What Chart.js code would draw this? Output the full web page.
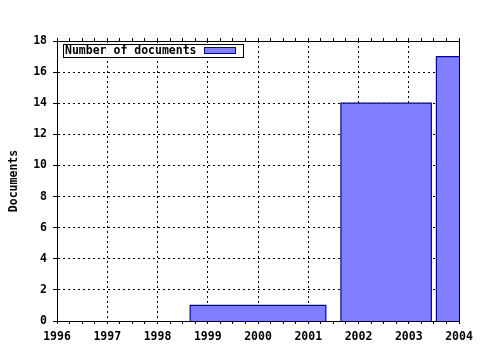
<!DOCTYPE html>
<html>
<head>
<meta charset="utf-8">
<script src="https://cdn.jsdelivr.net/npm/chart.js@4.4.1/dist/chart.umd.min.js"></script>
<style>
  html, body { margin: 0; padding: 0; background: #fff; }
  #wrap { width: 480px; height: 350px; }
</style>
</head>
<body>
<div id="wrap"><canvas id="chart"></canvas></div>
<script>
// Dades del gràfic (caixes: inici, final, valor)
const barStart = [1998.65, 2001.65, 2003.55];
const barEnd = [2001.35, 2003.45, 2004.45];
const docCounts = [1, 14, 17];
const serieLabel = 'Number of documents';
const yearTicks = [1996, 1997, 1998, 1999, 2000, 2001, 2002, 2003, 2004];
const docTicks = [0, 2, 4, 6, 8, 10, 12, 14, 16, 18];

const fillColor = '#8080ff';
const edgeColor = '#0000a0';
const fontMain = { family: "'DejaVu Sans Mono', monospace", size: 11.5, weight: 'bold' };

// Cada caixa és un dataset tancat per sota amb fill a l'origen
const datasets = docCounts.map((v, i) => ({
    label: serieLabel,
    data: [
        { x: barStart[i], y: 0 },
        { x: barStart[i], y: v },
        { x: barEnd[i], y: v },
        { x: barEnd[i], y: 0 }
    ],
    borderColor: edgeColor,
    backgroundColor: fillColor,
    borderWidth: 1.2,
    fill: 'origin',
    pointRadius: 0,
    tension: 0,
    clip: 0
}));

// Llegenda amb marc, a l'estil gnuplot
const legendBox = {
    id: 'legendBox',
    afterDraw(chart) {
        const ctx = chart.ctx;
        ctx.save();
        ctx.strokeStyle = '#000';
        ctx.lineWidth = 1;
        ctx.fillStyle = '#fff';
        ctx.fillRect(63.5, 44.5, 180, 13);
        ctx.strokeRect(63.5, 44.5, 180, 13);
        ctx.fillStyle = '#000';
        ctx.font = `bold ${fontMain.size}px ${fontMain.family}`;
        ctx.textBaseline = 'middle';
        ctx.textAlign = 'left';
        ctx.fillText(serieLabel, 65, 51.5);
        ctx.fillStyle = fillColor;
        ctx.fillRect(204.5, 47.5, 31, 6);
        ctx.strokeStyle = edgeColor;
        ctx.strokeRect(204.5, 47.5, 31, 6);
        ctx.restore();
    }
};

const gridDots = { color: '#000', lineWidth: 1 };

new Chart(document.getElementById('chart'), {
    type: 'line',
    data: { datasets },
    options: {
        responsive: true,
        maintainAspectRatio: false,
        animation: false,
        layout: { padding: { top: 41, right: 21, bottom: 0, left: 0 } },
        plugins: { legend: { display: false }, tooltip: { enabled: false } },
        scales: {
            xMinor: {
                type: 'linear', position: 'bottom', weight: 0,
                min: yearTicks[0], max: yearTicks[yearTicks.length - 1],
                ticks: { stepSize: 0.25, display: false },
                grid: { drawOnChartArea: false, drawTicks: true, tickLength: 3, color: '#000' },
                border: { display: false },
                afterFit: s => { s.height = 0; }
            },
            x: {
                type: 'linear', position: 'bottom', weight: 1,
                min: yearTicks[0], max: yearTicks[yearTicks.length - 1],
                afterBuildTicks: s => { s.ticks = yearTicks.map(v => ({ value: v })); },
                ticks: { color: '#000', font: fontMain, padding: 6, maxRotation: 0, autoSkip: false,
                    callback: v => String(v) },
                grid: { ...gridDots, tickLength: 3, tickBorderDash: [] },
                border: { display: true, color: '#000', width: 1, dash: [2, 3] },
                afterFit: s => { s.height = 29; }
            },
            xTop: {
                type: 'linear', position: 'top',
                min: yearTicks[0], max: yearTicks[yearTicks.length - 1],
                ticks: { stepSize: 0.25, display: false },
                grid: { drawOnChartArea: false, drawTicks: true, tickLength: 3, color: '#000' },
                border: { display: true, color: '#000', width: 1 },
                afterFit: s => { s.height = 0; }
            },
            y: {
                type: 'linear', position: 'left',
                min: docTicks[0], max: docTicks[docTicks.length - 1],
                afterBuildTicks: s => { s.ticks = docTicks.map(v => ({ value: v })); },
                ticks: { color: '#000', font: fontMain, padding: 6 },
                grid: { ...gridDots, tickLength: 4 },
                border: { display: true, color: '#000', width: 1, dash: [2, 3] },
                title: { display: true, text: 'Documents', color: '#000', font: fontMain,
                    padding: { top: 7, bottom: 0 } },
                afterFit: s => { s.width = 57; }
            },
            yRight: {
                type: 'linear', position: 'right',
                min: docTicks[0], max: docTicks[docTicks.length - 1],
                ticks: { display: false },
                grid: { drawOnChartArea: false, drawTicks: false },
                border: { display: true, color: '#000', width: 1 },
                afterFit: s => { s.width = 0; }
            }
        }
    },
    plugins: [legendBox]
});
</script>
</body>
</html>
